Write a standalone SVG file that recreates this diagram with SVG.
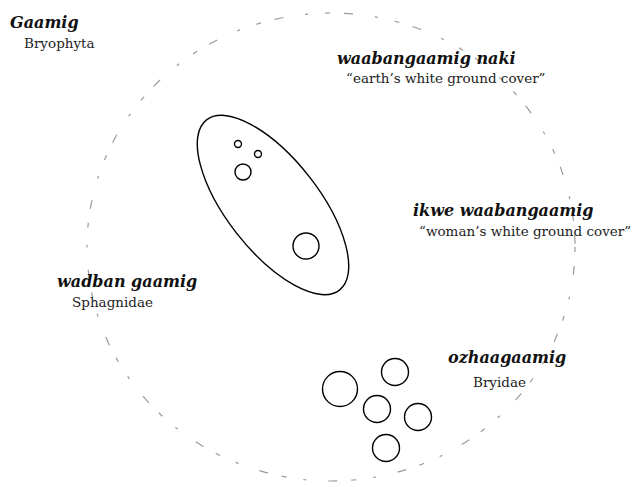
<svg xmlns="http://www.w3.org/2000/svg" width="634" height="487" viewBox="0 0 634 487">
<style>
.h{font-family:"DejaVu Serif","Liberation Serif",serif;font-weight:bold;font-style:italic;font-size:16px;fill:#111}
.s{font-family:"DejaVu Serif","Liberation Serif",serif;font-size:13.5px;fill:#222}
.c{fill:none;stroke:#000;stroke-width:1.4}
.outer{fill:none;stroke:#9a9a9a;stroke-width:1.2;stroke-dasharray:5 14 9 22 3 17}
</style>
<rect width="634" height="487" fill="#fff"/>
<g id="bryophyta">
<ellipse class="outer" cx="331" cy="247" rx="244" ry="234"/>
<text class="h" x="10" y="28">Gaamig</text>
<text class="s" x="24" y="48">Bryophyta</text>
</g>
<g id="waabangaamig-naki">
<ellipse class="c" cx="273" cy="205" rx="108" ry="46" transform="rotate(52 273 205)"/>
<text class="h" x="337" y="64">waabangaamig naki</text>
<text class="s" x="346" y="83">“earth’s white ground cover”</text>
</g>
<g id="ikwe-waabangaamig">
<circle class="c" cx="238" cy="144" r="3.5"/>
<circle class="c" cx="258" cy="154" r="3.5"/>
<circle class="c" cx="243" cy="172" r="8"/>
<circle class="c" cx="306" cy="246" r="13"/>
<text class="h" x="413" y="216">ikwe waabangaamig</text>
<text class="s" x="419" y="236">“woman’s white ground cover”</text>
</g>
<g id="wadban-gaamig">
<text class="h" x="57" y="287">wadban gaamig</text>
<text class="s" x="72" y="307">Sphagnidae</text>
</g>
<g id="ozhaagaamig">
<circle class="c" cx="340" cy="389" r="17.5"/>
<circle class="c" cx="395" cy="372" r="13.5"/>
<circle class="c" cx="377" cy="409" r="13.5"/>
<circle class="c" cx="418" cy="417" r="13.5"/>
<circle class="c" cx="386" cy="448" r="13.5"/>
<text class="h" x="448" y="363">ozhaagaamig</text>
<text class="s" x="473" y="387">Bryidae</text>
</g>
<g id="connectors"/>
</svg>
